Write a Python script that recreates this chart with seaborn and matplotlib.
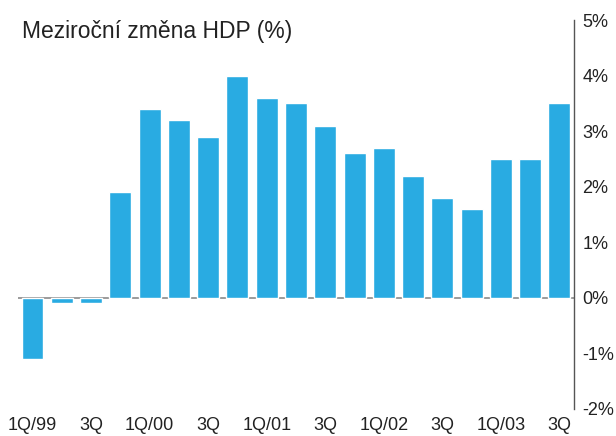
import matplotlib.pyplot as plt
import seaborn as sns
import pandas as pd

# quarterly year-on-year GDP change, 1Q/99 .. 3Q/03
quarters = ["1Q/99", "2Q/99", "3Q/99", "4Q/99",
            "1Q/00", "2Q/00", "3Q/00", "4Q/00",
            "1Q/01", "2Q/01", "3Q/01", "4Q/01",
            "1Q/02", "2Q/02", "3Q/02", "4Q/02",
            "1Q/03", "2Q/03", "3Q/03"]
gdp_change = [-1.1, -0.1, -0.1, 1.9,
              3.4, 3.2, 2.9, 4.0,
              3.6, 3.5, 3.1, 2.6,
              2.7, 2.2, 1.8, 1.6,
              2.5, 2.5, 3.5]
tick_labels = ["1Q/99", "", "3Q", "", "1Q/00", "", "3Q", "", "1Q/01", "", "3Q", "",
               "1Q/02", "", "3Q", "", "1Q/03", "", "3Q"]
y_ticks = [-2, -1, 0, 1, 2, 3, 4, 5]

sns.set_style("white")
plt.rcParams['font.family'] = ['Liberation Sans', 'DejaVu Sans']

df = pd.DataFrame({"Quarter": quarters, "Change": gdp_change})

fig = plt.figure(figsize=(6.16, 4.36), dpi=100)
ax = fig.add_axes([0.029, 0.062, 0.903, 0.892])

sns.barplot(data=df, x="Quarter", y="Change", color="#29ABE2",
            saturation=1, width=0.75, ax=ax)

# zero line across the plot
ax.axhline(0, color="#8a8a8a", linewidth=1.2, zorder=0)

ax.set_xlim(-0.5, 18.5)
ax.set_ylim(-2, 5)

# y axis on the right hand side
ax.yaxis.tick_right()
ax.set_yticks(y_ticks)
ax.set_yticklabels([f"{v}%" for v in y_ticks])
ax.set_xticks(range(len(quarters)))
ax.set_xticklabels(tick_labels)
ax.tick_params(axis="both", length=0, labelsize=13, colors="#222222")
ax.tick_params(axis="y", pad=6)
ax.tick_params(axis="x", pad=6)

ax.set_xlabel("")
ax.set_ylabel("")
for side in ["top", "left", "bottom"]:
    ax.spines[side].set_visible(False)
ax.spines["right"].set_color("#555555")
ax.spines["right"].set_linewidth(1.0)

fig.text(0.036, 0.955, "Meziroční změna HDP (%)", fontsize=16.5,
         color="#222222", ha="left", va="top")

plt.savefig("out.png", dpi=100)
